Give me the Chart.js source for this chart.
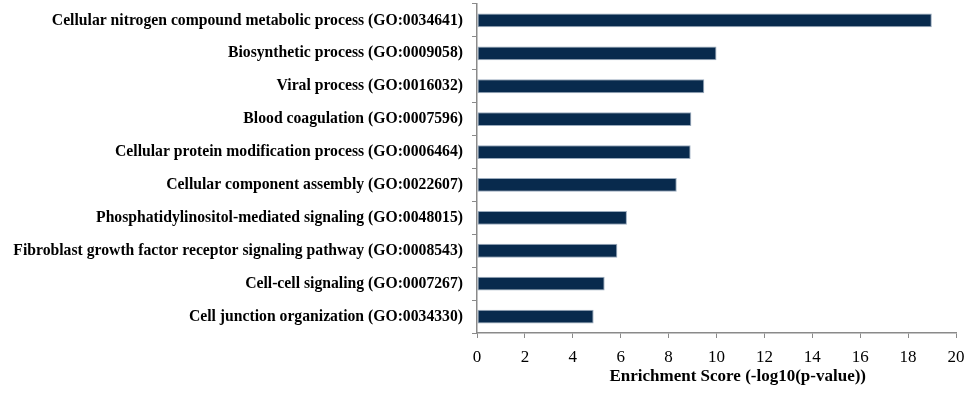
<!DOCTYPE html>
<html>
<head>
<meta charset="utf-8">
<script src="https://cdn.jsdelivr.net/npm/chart.js@4/dist/chart.umd.min.js"></script>
<style>
  html, body { margin: 0; padding: 0; background: #fff; }
  #wrap { width: 965px; height: 412px; position: relative; }
</style>
</head>
<body>
<div id="wrap"><canvas id="c" width="965" height="412"></canvas></div>
<script>
const categories = [
  "Cellular nitrogen compound metabolic process (GO:0034641)",
  "Biosynthetic process (GO:0009058)",
  "Viral process (GO:0016032)",
  "Blood coagulation (GO:0007596)",
  "Cellular protein modification process (GO:0006464)",
  "Cellular component assembly (GO:0022607)",
  "Phosphatidylinositol-mediated signaling (GO:0048015)",
  "Fibroblast growth factor receptor signaling pathway (GO:0008543)",
  "Cell-cell signaling (GO:0007267)",
  "Cell junction organization (GO:0034330)"
];
const enrichmentScores = [18.99, 10.0, 9.49, 8.95, 8.92, 8.34, 6.26, 5.86, 5.33, 4.87];
const xTicks = [0, 2, 4, 6, 8, 10, 12, 14, 16, 18, 20];
const xTitle = "Enrichment Score (-log10(p-value))";

const axisColor = '#8a8a8a';
const serif = "'Liberation Serif', 'Times New Roman', serif";

new Chart(document.getElementById('c'), {
  type: 'bar',
  data: {
    labels: categories,
    datasets: [{
      data: enrichmentScores,
      backgroundColor: '#082a4d',
      borderColor: '#9aabbd',
      borderWidth: 1,
      borderSkipped: false,
      categoryPercentage: 1,
      barPercentage: 0.42
    }]
  },
  options: {
    indexAxis: 'y',
    responsive: false,
    animation: false,
    layout: { padding: { top: 4, right: 1, left: 0, bottom: 0 } },
    plugins: { legend: { display: false }, tooltip: { enabled: false } },
    scales: {
      y: {
        offset: true,
        afterFit: s => { s.width = 477; s.paddingTop = 0; s.paddingBottom = 0; },
        grid: { display: true, drawOnChartArea: false, drawTicks: true, tickLength: 5, color: axisColor, offset: true },
        border: { display: true, color: axisColor, width: 1.5 },
        ticks: {
          color: '#000',
          padding: 9,
          autoSkip: false,
          font: { family: serif, size: 15.7, weight: 'bold' }
        }
      },
      x: {
        min: 0, max: 20,
        afterFit: s => { s.height = 79; s.paddingRight = 9; },
        afterBuildTicks: s => { s.ticks = xTicks.map(v => ({ value: v })); },
        grid: { display: true, drawOnChartArea: false, drawTicks: true, tickLength: 5, color: axisColor },
        border: { display: true, color: axisColor, width: 1.5 },
        ticks: {
          color: '#000',
          padding: 9,
          maxRotation: 0,
          font: { family: serif, size: 17 }
        },
        title: {
          display: true,
          text: "          " + xTitle,
          color: '#000',
          font: { family: serif, size: 17, weight: 'bold' },
          padding: { top: 0, bottom: 25 }
        }
      }
    }
  }
});
</script>
</body>
</html>
